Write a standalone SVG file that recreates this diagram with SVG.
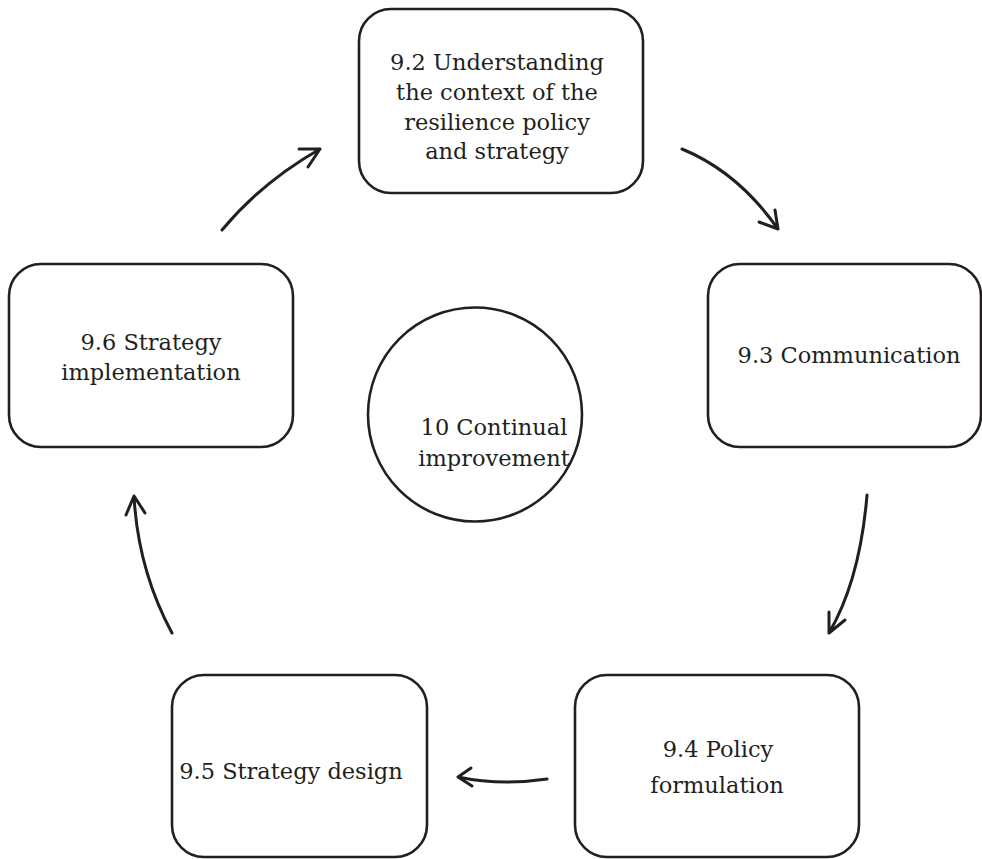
<svg xmlns="http://www.w3.org/2000/svg" width="982" height="859" viewBox="0 0 982 859">
<style>
.box{fill:#fff;stroke:#231f20;stroke-width:2.6}
.lbl{font-family:"DejaVu Serif","Liberation Serif",serif;font-size:22.5px;fill:#231f20;text-anchor:middle}
.arr{fill:none;stroke:#231f20;stroke-width:3;stroke-linecap:round;stroke-linejoin:round}
</style>
<rect width="982" height="859" fill="#fff"/>
<g id="n92">
<rect class="box" x="359" y="9" width="284" height="184" rx="32"/>
<text class="lbl" x="497" y="70">9.2 Understanding</text>
<text class="lbl" x="497" y="100">the context of the</text>
<text class="lbl" x="497" y="130">resilience policy</text>
<text class="lbl" x="497" y="159">and strategy</text>
</g>
<g id="n93">
<rect class="box" x="708" y="264" width="273" height="183" rx="32"/>
<text class="lbl" x="849" y="363">9.3 Communication</text>
</g>
<g id="n94">
<rect class="box" x="575" y="675" width="284" height="182" rx="32"/>
<text class="lbl" x="718" y="757">9.4 Policy</text>
<text class="lbl" x="717" y="793">formulation</text>
</g>
<g id="n95">
<rect class="box" x="172" y="675" width="255" height="182" rx="32"/>
<text class="lbl" x="291" y="779">9.5 Strategy design</text>
</g>
<g id="n96">
<rect class="box" x="9" y="264" width="284" height="183" rx="32"/>
<text class="lbl" x="151" y="350">9.6 Strategy</text>
<text class="lbl" x="151" y="380">implementation</text>
</g>
<g id="n10">
<circle class="box" cx="475" cy="414.5" r="107"/>
<text class="lbl" x="494" y="435">10 Continual</text>
<text class="lbl" x="494" y="466">improvement</text>
</g>
<g id="connectors">
<path class="arr" d="M222,230 Q262,182 320,149 M299,149 L320,149 L308,167"/>
<path class="arr" d="M682,149 Q738,172 778,229 M759,222 L778,229 L775,210"/>
<path class="arr" d="M867,495 Q860,580 829,633 M829,612 L829,633 L845,620"/>
<path class="arr" d="M172,633 Q138,570 134,496 M126,515 L134,496 L145,513"/>
<path class="arr" d="M547,779 Q500,786 458,777 M471,768 L458,777 L472,786"/>
</g>
</svg>
